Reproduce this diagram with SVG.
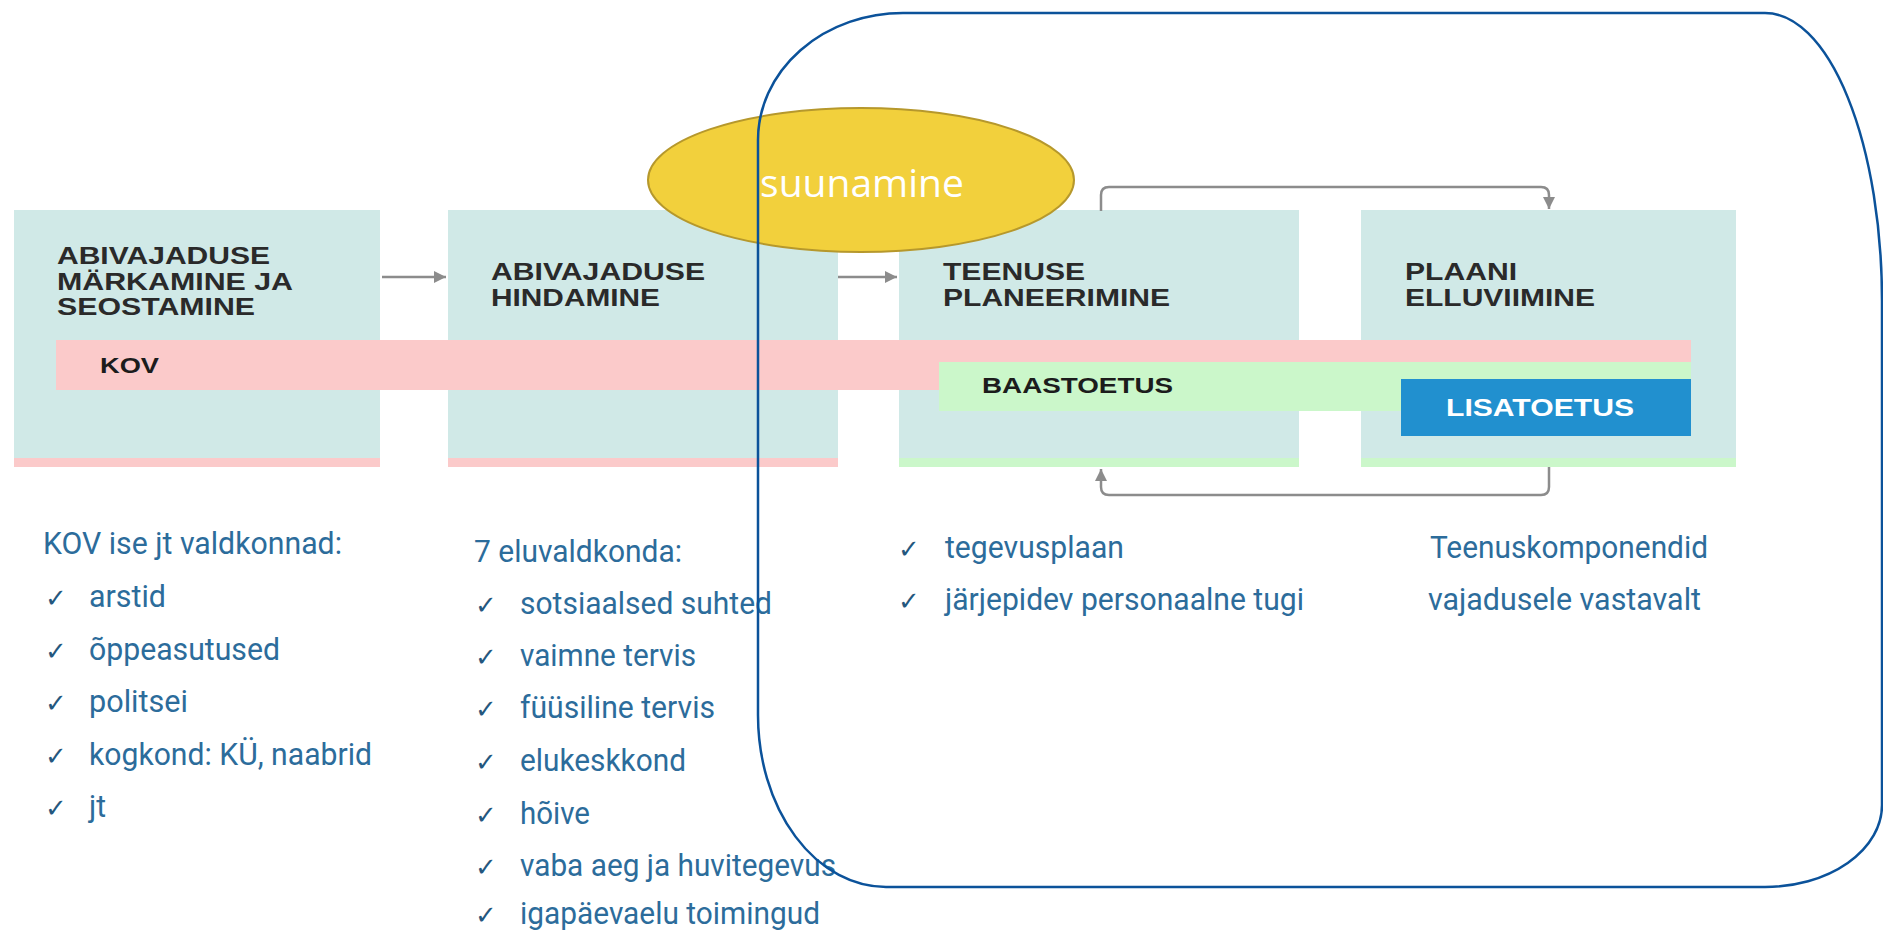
<svg xmlns="http://www.w3.org/2000/svg" width="1883" height="939" viewBox="0 0 1883 939">
<style>
.box{fill:#d0e9e7}
.pink{fill:#fbcaca}
.green{fill:#cbf7ca}
.ttl{font-family:"Liberation Sans",Arial,sans-serif;font-weight:bold;font-size:24px;fill:#2a2a2a}
.body{font-family:Roboto,"Liberation Sans",sans-serif;font-size:31px;fill:#2c6c9b}
.chk{font-family:"DejaVu Sans",sans-serif;font-size:26px;fill:#24577e}
.con{fill:none;stroke:#8c8c8c;stroke-width:2.5}
</style>
<defs>
<marker id="ah" viewBox="0 0 12 12" refX="12" refY="6" markerWidth="13" markerHeight="12" orient="auto" markerUnits="userSpaceOnUse">
<path d="M0,0 L12,6 L0,12 Z" fill="#8c8c8c"/>
</marker>
</defs>
<rect width="1883" height="939" fill="#ffffff"/>

<g id="node-markamine">
<rect class="box" x="14" y="210" width="366" height="257"/>
<rect class="pink" x="14" y="458" width="366" height="9"/>
<text class="ttl" x="57" y="264" textLength="213" lengthAdjust="spacingAndGlyphs">ABIVAJADUSE</text>
<text class="ttl" x="57" y="290" textLength="236" lengthAdjust="spacingAndGlyphs">MÄRKAMINE JA</text>
<text class="ttl" x="57" y="315" textLength="198" lengthAdjust="spacingAndGlyphs">SEOSTAMINE</text>
</g>
<g id="node-hindamine">
<rect class="box" x="448" y="210" width="390" height="257"/>
<rect class="pink" x="448" y="458" width="390" height="9"/>
<text class="ttl" x="491" y="280" textLength="214" lengthAdjust="spacingAndGlyphs">ABIVAJADUSE</text>
<text class="ttl" x="491" y="306" textLength="169" lengthAdjust="spacingAndGlyphs">HINDAMINE</text>
</g>
<g id="node-planeerimine">
<rect class="box" x="899" y="210" width="400" height="257"/>
<rect class="green" x="899" y="458" width="400" height="9"/>
<text class="ttl" x="943" y="280" textLength="142" lengthAdjust="spacingAndGlyphs">TEENUSE</text>
<text class="ttl" x="943" y="306" textLength="227" lengthAdjust="spacingAndGlyphs">PLANEERIMINE</text>
</g>
<g id="node-elluviimine">
<rect class="box" x="1361" y="210" width="375" height="257"/>
<rect class="green" x="1361" y="458" width="375" height="9"/>
<text class="ttl" x="1405" y="280" textLength="112" lengthAdjust="spacingAndGlyphs">PLAANI</text>
<text class="ttl" x="1405" y="306" textLength="190" lengthAdjust="spacingAndGlyphs">ELLUVIIMINE</text>
</g>

<g id="band-kov">
<rect class="pink" x="56" y="340" width="1635" height="50"/>
<text class="ttl" x="100" y="373" style="font-size:22px;fill:#1c1c1c" textLength="59" lengthAdjust="spacingAndGlyphs">KOV</text>
</g>
<g id="band-baastoetus">
<rect class="green" x="939" y="362" width="752" height="49"/>
<text class="ttl" x="982" y="393" style="font-size:22px;fill:#1c1c1c" textLength="191" lengthAdjust="spacingAndGlyphs">BAASTOETUS</text>
</g>
<g id="band-lisatoetus">
<rect x="1401" y="379" width="290" height="57" fill="#2190cf"/>
<text class="ttl" x="1446" y="416" style="font-size:23px;fill:#ffffff" textLength="188" lengthAdjust="spacingAndGlyphs">LISATOETUS</text>
</g>

<g id="connectors">
<line class="con" x1="382" y1="277" x2="446" y2="277" marker-end="url(#ah)"/>
<line class="con" x1="838" y1="277" x2="897" y2="277" marker-end="url(#ah)"/>
<path class="con" d="M1101,211 V195 Q1101,187 1109,187 H1541 Q1549,187 1549,195 V209" marker-end="url(#ah)"/>
<path class="con" d="M1549,467 V487 Q1549,495 1541,495 H1109 Q1101,495 1101,487 V469" marker-end="url(#ah)"/>
</g>

<g id="list-kov">
<text class="body" x="43" y="554" textLength="299" lengthAdjust="spacingAndGlyphs">KOV ise jt valdkonnad:</text>
<text class="chk" x="45" y="607">✓</text><text class="body" x="89" y="607" textLength="77" lengthAdjust="spacingAndGlyphs">arstid</text>
<text class="chk" x="45" y="660">✓</text><text class="body" x="89" y="660" textLength="191" lengthAdjust="spacingAndGlyphs">õppeasutused</text>
<text class="chk" x="45" y="712">✓</text><text class="body" x="89" y="712" textLength="99" lengthAdjust="spacingAndGlyphs">politsei</text>
<text class="chk" x="45" y="765">✓</text><text class="body" x="89" y="765" textLength="283" lengthAdjust="spacingAndGlyphs">kogkond: KÜ, naabrid</text>
<text class="chk" x="45" y="817">✓</text><text class="body" x="89" y="817" textLength="17" lengthAdjust="spacingAndGlyphs">jt</text>
</g>
<g id="list-eluvaldkonnad">
<text class="body" x="474" y="562" textLength="208" lengthAdjust="spacingAndGlyphs">7 eluvaldkonda:</text>
<text class="chk" x="475" y="614">✓</text><text class="body" x="520" y="614" textLength="252" lengthAdjust="spacingAndGlyphs">sotsiaalsed suhted</text>
<text class="chk" x="475" y="666">✓</text><text class="body" x="520" y="666" textLength="176" lengthAdjust="spacingAndGlyphs">vaimne tervis</text>
<text class="chk" x="475" y="718">✓</text><text class="body" x="520" y="718" textLength="195" lengthAdjust="spacingAndGlyphs">füüsiline tervis</text>
<text class="chk" x="475" y="771">✓</text><text class="body" x="520" y="771" textLength="166" lengthAdjust="spacingAndGlyphs">elukeskkond</text>
<text class="chk" x="475" y="824">✓</text><text class="body" x="520" y="824" textLength="70" lengthAdjust="spacingAndGlyphs">hõive</text>
<text class="chk" x="475" y="876">✓</text><text class="body" x="520" y="876" textLength="316" lengthAdjust="spacingAndGlyphs">vaba aeg ja huvitegevus</text>
<text class="chk" x="475" y="924">✓</text><text class="body" x="520" y="924" textLength="300" lengthAdjust="spacingAndGlyphs">igapäevaelu toimingud</text>
</g>
<g id="list-planeerimine">
<text class="chk" x="898" y="558">✓</text><text class="body" x="945" y="558" textLength="179" lengthAdjust="spacingAndGlyphs">tegevusplaan</text>
<text class="chk" x="898" y="610">✓</text><text class="body" x="945" y="610" textLength="359" lengthAdjust="spacingAndGlyphs">järjepidev personaalne tugi</text>
</g>
<g id="list-elluviimine">
<text class="body" x="1430" y="558" textLength="278" lengthAdjust="spacingAndGlyphs">Teenuskomponendid</text>
<text class="body" x="1428" y="610" textLength="273" lengthAdjust="spacingAndGlyphs">vajadusele vastavalt</text>
</g>

<g id="node-suunamine">
<ellipse cx="861" cy="180" rx="213" ry="72" fill="#f2d03c" stroke="#b6982c" stroke-width="2"/>
<text x="862" y="197" text-anchor="middle" font-family="'Open Sans','Noto Sans',sans-serif" font-size="39" fill="#ffffff">suunamine</text>
</g>

<g id="frame">
<path d="M903,13 H1765 A117 288 0 0 1 1882 301 V805 A117 82 0 0 1 1765 887 H886 A128 172 0 0 1 758 715 V140 A145 127 0 0 1 903 13 Z" fill="none" stroke="#0b529a" stroke-width="2.5"/>
</g>
</svg>
